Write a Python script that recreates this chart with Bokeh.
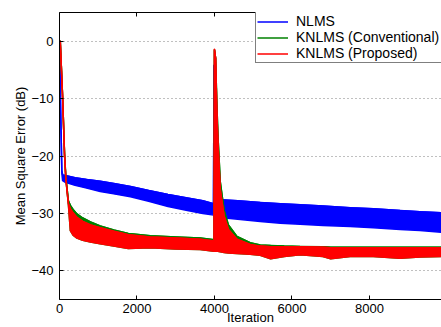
from bokeh.plotting import figure
from bokeh.models import Range1d, LinearAxis, FixedTicker, Legend, LegendItem
from bokeh.embed import file_html
from bokeh.resources import INLINE

# ---------------- data ----------------
nlms_iter = [0, 30, 60, 80, 150, 400, 700, 1050, 1400, 1830, 2300, 2800, 3300, 3700, 3975,
             3988, 4000, 4150, 4600, 5180, 5700, 6210, 6800, 7500, 8100, 8790, 9300, 9860]
nlms_upper = [0, -12, -22.5, -23.3, -23.4, -23.8, -24.1, -24.4, -24.8, -25.3, -26.0, -26.7, -27.3, -27.8, -28.3,
              -4.2, -27.4, -27.6, -27.8, -28.1, -28.3, -28.5, -28.7, -29.0, -29.2, -29.5, -29.7, -29.9]
nlms_lower = [0, -12, -23.0, -24.3, -24.6, -25.1, -25.6, -26.2, -26.6, -27.1, -27.9, -28.8, -29.5, -30.0, -30.3,
              -30.4, -30.5, -30.7, -31.0, -31.4, -31.7, -31.9, -32.1, -32.3, -32.5, -32.8, -33.0, -33.3]

knlms_iter = [0, 20, 80, 130, 165, 230, 280, 350, 450, 600, 800, 1050, 1400, 1775, 2340, 3000, 3630, 3990,
              4000, 4030, 4060, 4090, 4150, 4250, 4360, 4580, 4920, 5180, 5450, 5800, 6210, 6800, 7000, 7500,
              8100, 8790, 9300, 9860]
kconv_upper = [0, 0, -9.6, -19.6, -23.8, -27.8, -28.6, -29.3, -30.1, -30.8, -31.5, -32.2, -32.9, -33.5, -33.9,
               -34.1, -34.3, -34.6, -1.5, -3.0, -10.5, -16.5, -24.5, -29.5, -32.0, -34.0, -35.1, -35.5, -35.6,
               -35.7, -35.75, -35.8, -35.9, -35.9, -35.9, -35.9, -35.9, -35.9]
kconv_lower = [0, 0, -9.7, -19.8, -24.1, -28.5, -33.0, -33.8, -34.3, -34.7, -35.0, -35.3, -35.7, -36.1, -36.0,
               -36.2, -36.3, -36.6, -36.6, -36.6, -36.6, -36.6, -36.7, -36.8, -36.9, -37.0, -37.1, -37.3, -37.9,
               -37.5, -37.2, -37.5, -37.9, -37.5, -37.5, -37.8, -37.6, -37.5]
kprop_upper = [0, 0, -9.7, -19.8, -24.1, -28.3, -29.2, -29.9, -30.7, -31.4, -32.0, -32.5, -33.1, -33.7, -34.1,
               -34.3, -34.5, -34.8, -1.4, -3.0, -12.0, -17.8, -25.9, -30.5, -32.8, -34.5, -35.4, -35.7, -35.8,
               -35.8, -35.8, -35.9, -36.0, -36.0, -36.0, -36.0, -36.0, -36.0]
kprop_lower = kconv_lower

x_ticks = [0, 2000, 4000, 6000, 8000]
y_ticks = [-40, -30, -20, -10, 0]
y_tick_labels = {-40: "\u221240", -30: "\u221230", -20: "\u221220", -10: "\u221210", 0: "0"}

series = [
    ("NLMS", "#0000FF", nlms_iter, nlms_upper, nlms_lower),
    ("KNLMS (Conventional)", "#008000", knlms_iter, kconv_upper, kconv_lower),
    ("KNLMS (Proposed)", "#FF0000", knlms_iter, kprop_upper, kprop_lower),
]

FONT = "Liberation Sans"

p = figure(width=441, height=327, output_backend="svg", toolbar_location=None,
           x_range=Range1d(0, 9860), y_range=Range1d(-45, 5),
           min_border_left=59, min_border_right=0, min_border_top=12, min_border_bottom=28)
p.outline_line_color = None
p.background_fill_color = "white"
p.border_fill_color = "white"
p.xgrid.visible = False
p.ygrid.ticker = FixedTicker(ticks=y_ticks)
p.ygrid.grid_line_color = "#808080"
p.ygrid.grid_line_dash = "1 3"
p.ygrid.grid_line_width = 1

def style_axis(ax, ticks, show_labels=True):
    ax.ticker = FixedTicker(ticks=ticks)
    ax.major_tick_in = 4
    ax.major_tick_out = 0
    ax.minor_tick_line_color = None
    ax.axis_line_color = "black"
    ax.major_tick_line_color = "black"
    ax.major_label_text_font = FONT
    ax.major_label_text_color = "black"
    ax.axis_label_text_font = FONT
    ax.axis_label_text_font_size = "13px"
    ax.axis_label_text_font_style = "normal"
    ax.axis_label_text_color = "black"
    if show_labels:
        ax.major_label_text_font_size = "13px"
        ax.major_label_standoff = 5
    else:
        ax.major_label_text_font_size = "1px"
        ax.major_label_text_alpha = 0
        ax.major_label_standoff = 0

style_axis(p.xaxis[0], x_ticks)
p.xaxis[0].major_label_standoff = 4
p.xaxis[0].axis_label = "Iteration"
p.xaxis[0].axis_label_standoff = -6
style_axis(p.yaxis[0], y_ticks)
p.yaxis[0].major_label_overrides = y_tick_labels
p.yaxis[0].major_label_standoff = 6
p.yaxis[0].axis_label = "Mean Square Error (dB)"
p.yaxis[0].axis_label_standoff = 0
top = LinearAxis()
style_axis(top, x_ticks, show_labels=False)
p.add_layout(top, "above")

items = []
for name, color, it, up, lo in series:
    xs = list(it) + list(it)[::-1]
    ys = list(up) + list(lo)[::-1]
    p.patch(xs, ys, fill_color=color, line_color=color, line_width=1.5, line_join="round")
    r = p.line(it, up, line_color=color, line_width=1.5)
    items.append(LegendItem(label=name, renderers=[r]))

legend = Legend(items=items, location=(196, 236), padding=1, spacing=0, margin=0,
                label_height=15, glyph_height=15, glyph_width=31, label_standoff=8, label_width=144,
                label_text_font=FONT, label_text_font_size="14px", label_text_color="black",
                border_line_color="black", border_line_width=1,
                background_fill_color="white", background_fill_alpha=1)
p.add_layout(legend)

open("out.html", "w").write(file_html(p, INLINE))
